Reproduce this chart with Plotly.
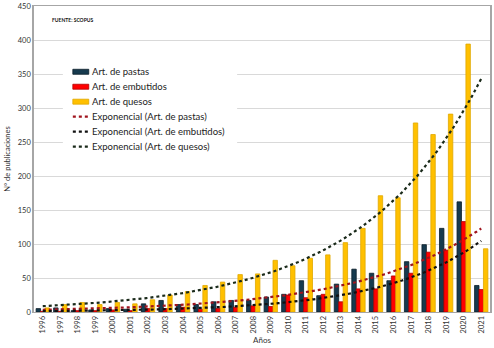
import numpy as np
import plotly.graph_objects as go

years = list(range(1996, 2022))
pastas = [5, 6, 2, 3, 5, 4, 12, 17, 11, 11, 15, 17, 17, 22, 26, 46, 24, 41, 63, 57, 46, 74, 99, 123, 162, 39]
embutidos = [1, 1, 2, 2, 3, 2, 5, 5, 7, 4, 5, 7, 9, 8, 25, 21, 26, 15, 34, 34, 53, 57, 88, 91, 133, 33]
quesos = [6, 11, 14, 11, 14, 12, 18, 25, 30, 39, 44, 55, 56, 76, 68, 79, 84, 102, 123, 171, 168, 278, 261, 291, 394, 93]

names = ["Art. de pastas", "Art. de embutidos", "Art. de quesos"]
trend_names = ["Exponencial (Art. de pastas)", "Exponencial (Art. de embutidos)", "Exponencial (Art. de quesos)"]
bar_colors = ["#163A4E", "#FF0000", "#FFC000"]
bar_lines = ["#0B1E29", "#B00000", "#E0A800"]
trend_colors = ["#A0141E", "#111111", "#1A2A1A"]

FONT = "Lato, 'Open Sans', sans-serif"

# plot-area geometry (pixels) used to place the manual legend
W, H = 494, 348
ML, MR, MT, MB = 34, 2, 5, 36
PW, PH = W - ML - MR, H - MT - MB


def px(x):
    return (x - ML) / PW


def py(y):
    return (H - MB - y) / PH


fig = go.Figure()
series = [pastas, embutidos, quesos]
for i, (nm, vals) in enumerate(zip(names, series)):
    fig.add_trace(go.Bar(
        x=years, y=vals, name=nm, offsetgroup=str(i), showlegend=False,
        marker=dict(color=bar_colors[i], line=dict(color=bar_lines[i], width=0.8)),
    ))

# Exponential trendlines (Excel-style least squares on ln(y))
xi = np.arange(1, len(years) + 1)
xf = np.linspace(1, len(years), 200)
for i, vals in enumerate(series):
    b, a = np.polyfit(xi, np.log(np.array(vals, dtype=float)), 1)
    yf = np.exp(a + b * xf)
    fig.add_trace(go.Scatter(
        x=xf + years[0] - 1, y=yf, mode="lines", name=trend_names[i], showlegend=False,
        line=dict(color=trend_colors[i], width=2.2, dash="dot"),
    ))

# manual legend
shapes = [dict(type="rect", xref="paper", yref="paper",
               x0=px(63), x1=px(238), y0=py(160), y1=py(58),
               fillcolor="white", line=dict(width=0), layer="above")]
annotations = [dict(
    text="<b>FUENTE: SCOPUS</b>", x=px(50), y=py(19), xref="paper", yref="paper",
    xanchor="left", yanchor="middle", showarrow=False,
    font=dict(size=5, color="#111111", family=FONT),
)]
item_y = [71, 86, 101, 116, 131, 146]
labels = names + trend_names
for k, (yy, lab) in enumerate(zip(item_y, labels)):
    if k < 3:
        shapes.append(dict(type="rect", xref="paper", yref="paper",
                           x0=px(73), x1=px(89), y0=py(yy + 2.5), y1=py(yy - 2.5),
                           fillcolor=bar_colors[k], line=dict(color=bar_lines[k], width=0.8),
                           layer="above"))
    else:
        shapes.append(dict(type="line", xref="paper", yref="paper",
                           x0=px(73), x1=px(89), y0=py(yy), y1=py(yy),
                           line=dict(color=trend_colors[k - 3], width=2.2, dash="dot"),
                           layer="above"))
    annotations.append(dict(
        text=lab, x=px(90), y=py(yy), xref="paper", yref="paper",
        xanchor="left", yanchor="middle", showarrow=False,
        font=dict(size=9.5, color="#222222", family=FONT),
    ))

fig.update_layout(
    width=W, height=H,
    margin=dict(l=ML, r=MR, t=MT, b=MB),
    paper_bgcolor="white", plot_bgcolor="white",
    barmode="group", bargap=0.24, bargroupgap=0.0,
    font=dict(family=FONT, color="#404040"),
    showlegend=False,
    shapes=shapes,
    annotations=annotations,
)

fig.update_xaxes(
    range=[1995.5, 2021.5], tickmode="array", tickvals=years,
    ticktext=[str(y) for y in years], tickangle=-90,
    tickfont=dict(size=7.5, color="#333333"),
    showgrid=False, showline=True, linecolor="#A6A6A6", linewidth=1, mirror=True,
    ticks="", zeroline=False,
    title=dict(text="Años", font=dict(size=8, color="#333333"), standoff=4),
)
fig.update_yaxes(
    range=[0, 450], dtick=50, tickfont=dict(size=7.5, color="#333333"),
    showgrid=True, gridcolor="#D9D9D9", gridwidth=1,
    showline=True, linecolor="#A6A6A6", linewidth=1.5, mirror=True,
    ticks="", zeroline=False,
    title=dict(text="N° de publicaciones", font=dict(size=7.5, color="#333333"), standoff=6),
)

fig.write_html("out.html")
